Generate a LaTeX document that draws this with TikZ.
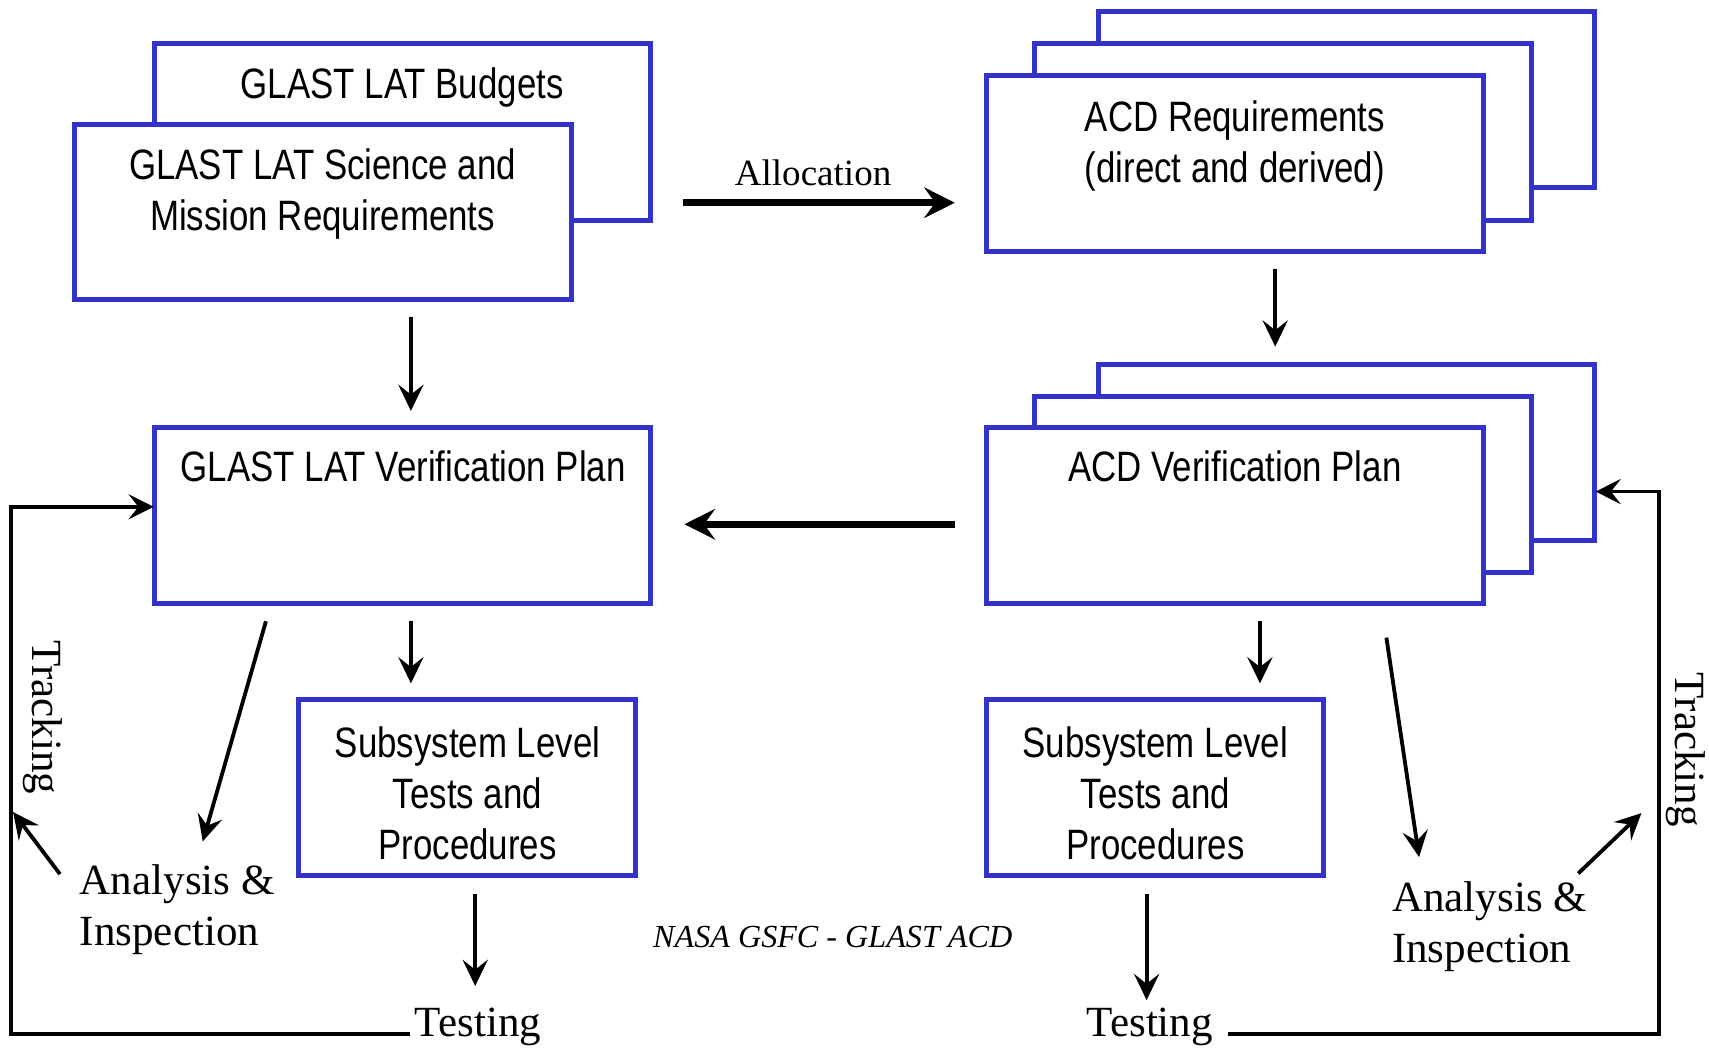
\documentclass[tikz,border=0pt]{standalone}
\usepackage{fontspec}
\setmainfont{Liberation Serif}
\newfontfamily\narrowsans{Liberation Sans}[FakeStretch=0.82]
\usetikzlibrary{arrows.meta}
\definecolor{boxblue}{RGB}{51,51,204}
\begin{document}
\begin{tikzpicture}[x=1pt,y=-1pt,
  box/.style={draw=boxblue, line width=4.6pt, fill=white, inner sep=0pt, outer sep=0pt},
  boxtext/.style={font=\narrowsans\fontsize{39}{47}\selectfont, align=center, inner sep=0pt},
  serif/.style={font=\fontsize{39.5}{47}\selectfont, inner sep=0pt},
  thinarrow/.style={line width=3.5pt, -{Stealth[length=24pt,width=23pt,inset=9pt]}},
  thickarrow/.style={line width=6pt, -{Stealth[length=28pt,width=28pt,inset=10pt]}},
  fbline/.style={line width=3.5pt, -{Stealth[length=23pt,width=23pt,inset=9pt]}}]
\useasboundingbox (0,0) rectangle (1568,961);
% left top stack
\node[box, minimum width=455pt, minimum height=162pt] (budg) at (369.5,121) {};
\node[box, minimum width=456pt, minimum height=161pt] (sci) at (296,194.5) {};
\node[boxtext, anchor=base] (budgt) at (369,90) {GLAST LAT Budgets};
\node[boxtext] (scit) at (296,178) {GLAST LAT Science and\\Mission Requirements};
% right top stack
\node[box, minimum width=455pt, minimum height=161pt] (reqc) at (1235.5,91.5) {};
\node[box, minimum width=456pt, minimum height=162pt] (reqb) at (1177,121) {};
\node[box, minimum width=456pt, minimum height=162pt] (req) at (1133,150) {};
\node[boxtext] (reqt) at (1133,134) {ACD Requirements\\(direct and derived)};
% right middle stack
\node[box, minimum width=455pt, minimum height=162pt] (vpc) at (1235.5,415) {};
\node[box, minimum width=456pt, minimum height=161pt] (vpb) at (1177,444.5) {};
\node[box, minimum width=456pt, minimum height=162pt] (vp) at (1133,473) {};
\node[boxtext, anchor=base] (vpt) at (1133,442) {ACD Verification Plan};
% left middle
\node[box, minimum width=455pt, minimum height=162pt] (glv) at (369.5,473) {};
\node[boxtext, anchor=base] (glvt) at (370,442) {GLAST LAT Verification Plan};
% subsystem boxes
\node[box, minimum width=309pt, minimum height=161pt] (subl) at (428.5,722.5) {};
\node[boxtext] (sublt) at (429,728) {Subsystem Level\\Tests and\\Procedures};
\node[box, minimum width=309pt, minimum height=161pt] (subr) at (1059.5,722.5) {};
\node[boxtext] (subrt) at (1060,728) {Subsystem Level\\Tests and\\Procedures};
% labels
\node[font=\fontsize{34}{40}\selectfont, anchor=base, inner sep=0pt] (alloc) at (746,170) {Allocation};
\node[serif, align=left, anchor=west] (anl) at (73,834.6) {Analysis \&\\Inspection};
\node[serif, align=left, anchor=west] (anr) at (1277,850) {Analysis \&\\Inspection};
\node[serif, anchor=base] (testl) at (438.5,951) {Testing};
\node[serif, anchor=base] (testr) at (1055,951) {Testing};
\node[serif, rotate=-90] (trl) at (39,658) {Tracking};
\node[serif, rotate=-90] (trr) at (1547,688) {Tracking};
\node[font=\itshape\fontsize{29.5}{33}\selectfont, anchor=base, inner sep=0pt] (nasa) at (764,869) {NASA GSFC - GLAST ACD};
% connectors
\draw[thinarrow, shorten <=16pt, shorten >=15pt] ([xshift=81pt]sci.south) -- ([xshift=7.5pt]glv.north);
\draw[thickarrow, shorten <=30pt, shorten >=29pt] ([yshift=-65pt]budg.east) -- ([yshift=-36pt]req.west);
\draw[thinarrow, shorten <=16pt, shorten >=16pt] ([xshift=37pt]req.south) -- ([xshift=-65.5pt]vpc.north);
\draw[thickarrow, shorten <=29pt, shorten >=31pt] ([yshift=-8pt]vp.west) -- ([yshift=-8pt]glv.east);
\draw[thinarrow, shorten <=16pt, shorten >=15pt] ([xshift=7.5pt]glv.south) -- ([xshift=-51.5pt]subl.north);
\draw[thinarrow] ([xshift=-125.5pt,yshift=-16pt]glv.south) -- ([xshift=113pt,yshift=21pt]anl.north west);
\draw[thinarrow, shorten <=17pt] ([xshift=7.5pt]subl.south) -- ([xshift=-2.5pt,yshift=20pt]testl.north);
\draw[fbline, shorten >=1pt] ([xshift=-4pt,yshift=2pt]testl.base west) -| ([xshift=-132pt,yshift=8pt]glv.west) -- ([yshift=8pt]glv.west);
\draw[thinarrow] ([xshift=-18pt,yshift=-9pt]anl.north west) -- ([xshift=-27pt,yshift=-87pt]trl.center);
\draw[thinarrow, shorten <=16pt, shorten >=15pt] ([xshift=23pt]vp.south) -- ([xshift=96.5pt]subr.north);
\draw[thinarrow] ([xshift=139pt,yshift=-31pt]vp.south) -- ([xshift=25pt,yshift=22pt]anr.north west);
\draw[thinarrow, shorten <=17pt] ([xshift=-7.5pt]subr.south) -- ([xshift=-3pt,yshift=7pt]testr.north);
\draw[fbline, shorten >=1pt] ([xshift=14pt,yshift=2pt]testr.base east) -| ([xshift=59pt,yshift=-36pt]vpc.east) -- ([yshift=-36pt]vpc.east);
\draw[thinarrow] ([xshift=171pt,yshift=7pt]anr.north west) -- ([xshift=-41pt,yshift=-58pt]trr.center);
\end{tikzpicture}
\end{document}
